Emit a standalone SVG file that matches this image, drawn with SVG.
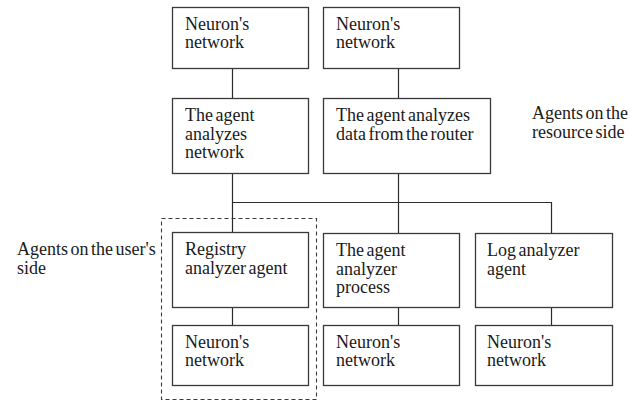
<svg xmlns="http://www.w3.org/2000/svg" width="639" height="403" viewBox="0 0 639 403">
<style>
.box{fill:#fff;stroke:#3a3a3a;stroke-width:1.3}
.ln{stroke:#2a2a2a;stroke-width:1.2;fill:none}
.dash{fill:none;stroke:#3a3a3a;stroke-width:1.1;stroke-dasharray:4 3}
text{font-size:18px;word-spacing:-2px;fill:#1a1a1a}
</style>
<rect width="639" height="403" fill="#fff"/>
<g id="connectors">
<path class="ln" d="M232.5 68.5V98.5"/>
<path class="ln" d="M398.5 68.5V98.5"/>
<path class="ln" d="M232.5 173.5V232.5"/>
<path class="ln" d="M398.5 173.5V233.5"/>
<path class="ln" d="M232.5 202.5H551.5V233.5"/>
<path class="ln" d="M232.5 307.5V325.5"/>
<path class="ln" d="M398.5 307.5V325.5"/>
<path class="ln" d="M551.5 307.5V325.5"/>
</g>
<g id="nodes" font-family="Liberation Serif">
<g id="user-side-group">
<rect class="dash" x="161.5" y="218.5" width="155" height="181"/>
<text x="17" y="255">Agents on the user's</text>
<text x="17" y="273.5">side</text>
</g>
<g id="resource-side-label">
<text x="532" y="119">Agents on the</text>
<text x="532" y="137.5">resource side</text>
</g>
<g id="nn-top-left">
<rect class="box" x="172.5" y="7.5" width="136" height="61"/>
<text x="185" y="29.5">Neuron's</text>
<text x="185" y="48">network</text>
</g>
<g id="nn-top-right">
<rect class="box" x="323.5" y="7.5" width="136" height="61"/>
<text x="336" y="29.5">Neuron's</text>
<text x="336" y="48">network</text>
</g>
<g id="agent-network">
<rect class="box" x="172.5" y="98.5" width="136" height="75"/>
<text x="185" y="121">The agent</text>
<text x="185" y="139.5">analyzes</text>
<text x="185" y="158">network</text>
</g>
<g id="agent-router">
<rect class="box" x="323.5" y="98.5" width="167" height="75"/>
<text x="336" y="121">The agent analyzes</text>
<text x="336" y="139.5">data from the router</text>
</g>
<g id="registry-agent">
<rect class="box" x="172.5" y="232.5" width="136" height="75"/>
<text x="185" y="255">Registry</text>
<text x="185" y="273.5">analyzer agent</text>
</g>
<g id="process-agent">
<rect class="box" x="323.5" y="233.5" width="136" height="74"/>
<text x="336" y="256">The agent</text>
<text x="336" y="274.5">analyzer</text>
<text x="336" y="293">process</text>
</g>
<g id="log-agent">
<rect class="box" x="475.5" y="233.5" width="137" height="74"/>
<text x="487" y="256">Log analyzer</text>
<text x="487" y="274.5">agent</text>
</g>
<g id="nn-registry">
<rect class="box" x="172.5" y="325.5" width="136" height="60"/>
<text x="185" y="347.5">Neuron's</text>
<text x="185" y="366">network</text>
</g>
<g id="nn-process">
<rect class="box" x="323.5" y="325.5" width="136" height="60"/>
<text x="336" y="347.5">Neuron's</text>
<text x="336" y="366">network</text>
</g>
<g id="nn-log">
<rect class="box" x="475.5" y="325.5" width="137" height="60"/>
<text x="487" y="347.5">Neuron's</text>
<text x="487" y="366">network</text>
</g>
</g>
</svg>
